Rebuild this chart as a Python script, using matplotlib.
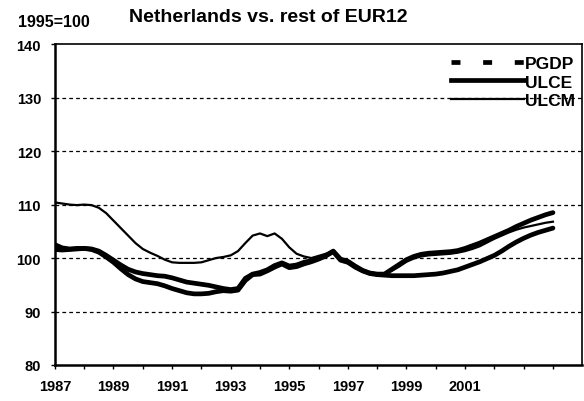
import numpy as np
import matplotlib.pyplot as plt
from matplotlib.lines import Line2D

plt.rcParams['font.family'] = ['Liberation Sans', 'DejaVu Sans']
plt.rcParams['font.weight'] = 'bold'

# quarterly data 1987Q1 .. 2004Q1 (index 1995=100)
anos = 1987 + np.arange(69) / 4

ulcm = [110.4, 110.2, 110.0, 109.9, 110.0, 109.9, 109.4, 108.4,
        107.0, 105.6, 104.2, 102.8, 101.7, 101.0, 100.4, 99.7,
        99.2, 99.1, 99.1, 99.1, 99.2, 99.6, 100.0, 100.2,
        100.5, 101.3, 102.8, 104.2, 104.6, 104.1, 104.6, 103.6,
        102.0, 100.8, 100.3, 100.0, 100.4, 100.8, 101.2, 99.6,
        99.4, 98.6, 97.8, 97.3, 97.1, 97.0, 97.6, 98.4,
        99.3, 99.9, 100.3, 100.5, 100.6, 100.7, 100.8, 101.0,
        101.3, 101.7, 102.2, 102.9, 103.6, 104.2, 104.8, 105.3,
        105.7, 106.0, 106.3, 106.6, 106.8]

ulce = [102.5, 101.9, 101.7, 101.8, 101.8, 101.7, 101.3, 100.5,
        99.6, 98.7, 97.9, 97.4, 97.1, 96.9, 96.7, 96.6,
        96.3, 95.9, 95.5, 95.3, 95.1, 94.9, 94.6, 94.3,
        94.1, 94.3, 96.2, 97.0, 97.3, 97.8, 98.6, 99.1,
        98.5, 98.7, 99.2, 99.5, 99.9, 100.5, 101.3, 99.8,
        99.4, 98.5, 97.7, 97.2, 97.0, 97.0, 97.9, 98.8,
        99.7, 100.3, 100.7, 100.9, 101.0, 101.1, 101.2, 101.4,
        101.8, 102.3, 102.8, 103.4, 104.0, 104.6, 105.2, 105.9,
        106.5, 107.1, 107.6, 108.1, 108.5]

pgdp = [101.6, 101.5, 101.6, 101.7, 101.8, 101.6, 101.1, 100.2,
        99.2, 98.0, 96.9, 96.1, 95.6, 95.4, 95.2, 94.8,
        94.3, 93.9, 93.5, 93.3, 93.3, 93.4, 93.7, 93.9,
        93.8, 94.0, 95.8, 96.9, 97.0, 97.6, 98.3, 98.9,
        98.2, 98.4, 98.9, 99.3, 99.8, 100.4, 101.2, 99.6,
        99.2, 98.3, 97.6, 97.1, 96.9, 96.8, 96.7, 96.7,
        96.7, 96.7, 96.8, 96.9, 97.0, 97.2, 97.5, 97.8,
        98.3, 98.8, 99.3, 99.9, 100.5, 101.3, 102.2, 103.0,
        103.7, 104.3, 104.8, 105.2, 105.6]

anos_rotulo = [1987, 1989, 1991, 1993, 1995, 1997, 1999, 2001]

fig = plt.figure(figsize=(5.84, 4.02), dpi=100)
ax = fig.add_axes([0.094, 0.0896, 0.903, 0.798])

# linhas de grade tracejadas
for v in [90, 100, 110, 120, 130]:
    ax.axhline(v, color='black', lw=0.9, ls=(0, (3, 2.5)), zorder=1)

ax.plot(anos, ulcm, color='black', lw=1.6, zorder=3)
ax.plot(anos, ulce, color='black', lw=3.4, zorder=3, solid_capstyle='round')
ax.plot(anos, pgdp, color='black', lw=3.4, zorder=3, solid_capstyle='round')

ax.set_xlim(1987, 2005)
ax.set_ylim(80, 140)
ax.set_yticks(range(80, 141, 10))
ax.set_xticks(range(1987, 2005))
ax.set_xticklabels([str(a) if a in anos_rotulo else '' for a in range(1987, 2005)])
ax.tick_params(axis='both', labelsize=10.5, direction='out', length=3, width=1)
ax.tick_params(axis='y', pad=7)
ax.tick_params(axis='x', pad=7)
for s in ax.spines.values():
    s.set_linewidth(1.2)
ax.spines['left'].set_linewidth(1.8)
ax.spines['bottom'].set_linewidth(1.8)

# legenda
handles = [Line2D([], [], color='black', lw=3.4, ls=(0, (1.9, 4.8))),
           Line2D([], [], color='black', lw=3.4),
           Line2D([], [], color='black', lw=1.6)]
ax.legend(handles, ['PGDP', 'ULCE', 'ULCM'], loc='upper right',
          bbox_to_anchor=(0.985, 0.858), bbox_transform=fig.transFigure,
          borderaxespad=0, borderpad=0, frameon=False, handlelength=4.2,
          handletextpad=0.1, labelspacing=0.18, prop={'size': 12.5, 'weight': 'bold'})

fig.text(0.03, 0.943, '1995=100', fontsize=11.5, weight='bold', va='center')
fig.text(0.46, 0.956, 'Netherlands vs. rest of EUR12', fontsize=14, weight='bold',
         ha='center', va='center')

plt.savefig('out.png', dpi=100)
